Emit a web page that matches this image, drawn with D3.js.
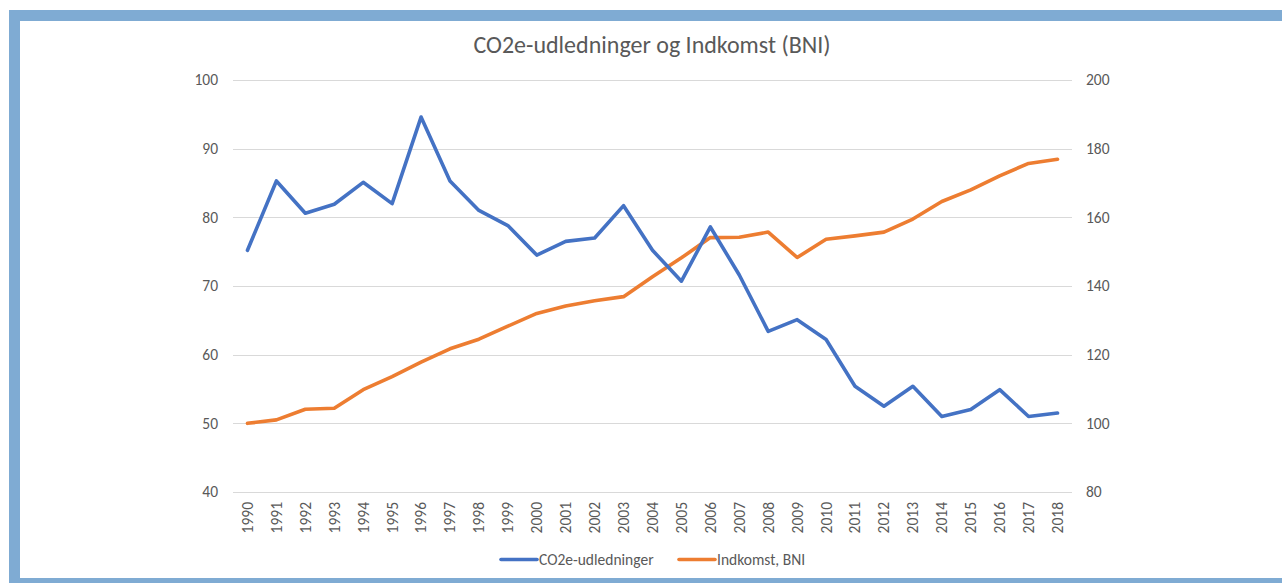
<!DOCTYPE html>
<html><head><meta charset="utf-8">
<script src="https://cdn.jsdelivr.net/npm/d3@7"></script>
<style>body{margin:0;background:#fff;}svg{display:block;}</style>
</head><body>
<svg id="c" width="1282" height="583"></svg>
<script>
const years = ["1990","1991","1992","1993","1994","1995","1996","1997","1998","1999","2000","2001","2002","2003","2004","2005","2006","2007","2008","2009","2010","2011","2012","2013","2014","2015","2016","2017","2018"];
const co2 = [75.2,85.3,80.6,81.9,85.1,82.0,94.6,85.3,81.0,78.8,74.5,76.5,77.0,81.7,75.2,70.7,78.6,71.6,63.4,65.1,62.2,55.4,52.5,55.4,51.0,52.0,54.9,51.0,51.5];
const bni = [100.0,101.0,104.1,104.4,109.8,113.6,117.8,121.7,124.5,128.3,132.0,134.2,135.7,136.9,142.7,148.2,154.1,154.2,155.7,148.3,153.6,154.6,155.7,159.5,164.6,168.0,172.1,175.7,176.9];
const leftTicks = [40,50,60,70,80,90,100];
const rightTicks = [80,100,120,140,160,180,200];
const seriesNames = ["CO2e-udledninger","Indkomst, BNI"];
const title = "CO2e-udledninger og Indkomst (BNI)";

const svg = d3.select("#c");
const font = "Carlito, Calibri, 'Liberation Sans', Arial, sans-serif";
const grey = "#595959";
const blue = "#4472C4", orange = "#ED7D31";
const fs = "15.5px";

// frame
svg.append("rect").attr("x",14.5).attr("y",15.5).attr("width",1290).attr("height",568)
  .attr("fill","none").attr("stroke","#7FABD3").attr("stroke-width",11);

const L = 233, R = 1072, T = 80, B = 492;
const x = d3.scaleBand().domain(years).range([L,R]);
const yL = d3.scaleLinear().domain([40,100]).range([B,T]);
const yR = d3.scaleLinear().domain([80,200]).range([B,T]);

// gridlines
svg.append("g").selectAll("line").data(leftTicks).join("line")
  .attr("x1",L).attr("x2",R).attr("y1",d=>Math.round(yL(d))+0.5).attr("y2",d=>Math.round(yL(d))+0.5)
  .attr("stroke","#d9d9d9").attr("stroke-width",1);

// left axis
const ga = svg.append("g").attr("transform",`translate(${L-15},0)`)
  .call(d3.axisLeft(yL).tickValues(leftTicks).tickSize(0).tickPadding(0));
ga.select(".domain").remove();
ga.selectAll("text").attr("fill",grey).style("font-family",font).style("font-size",fs);

const gr = svg.append("g").attr("transform",`translate(${R+14},0)`)
  .call(d3.axisRight(yR).tickValues(rightTicks).tickSize(0).tickPadding(0));
gr.select(".domain").remove();
gr.selectAll("text").attr("fill",grey).style("font-family",font).style("font-size",fs);

// x labels
const gx = svg.append("g").attr("transform",`translate(0,${B})`)
  .call(d3.axisBottom(x).tickSize(0).tickPadding(0));
gx.select(".domain").remove();
gx.selectAll("text").attr("fill",grey).style("font-family",font).style("font-size",fs)
  .attr("text-anchor","end").attr("dy","0.35em").attr("transform","translate(0,10) rotate(-90)").attr("x",0).attr("y",0);

const cx = d => x(d) + x.bandwidth()/2;
const line1 = d3.line().x((d,i)=>cx(years[i])).y(d=>yL(d));
const line2 = d3.line().x((d,i)=>cx(years[i])).y(d=>yR(d));
svg.append("path").attr("d",line2(bni)).attr("fill","none").attr("stroke",orange).attr("stroke-width",3.6).attr("stroke-linejoin","round").attr("stroke-linecap","round");
svg.append("path").attr("d",line1(co2)).attr("fill","none").attr("stroke",blue).attr("stroke-width",3.6).attr("stroke-linejoin","round").attr("stroke-linecap","round");

// title
svg.append("text").attr("x",652).attr("y",53).attr("text-anchor","middle")
  .attr("fill",grey).style("font-family",font).style("font-size","24px").text(title);

// legend
const lg = [{x:501,c:blue,t:seriesNames[0]},{x:679,c:orange,t:seriesNames[1]}];
const g = svg.append("g");
lg.forEach(d=>{
  g.append("line").attr("x1",d.x).attr("x2",d.x+36).attr("y1",559.5).attr("y2",559.5).attr("stroke",d.c).attr("stroke-width",3.6).attr("stroke-linecap","round");
  g.append("text").attr("x",d.x+38).attr("y",565).attr("fill",grey).style("font-family",font).style("font-size",fs).text(d.t);
});
</script>
</body></html>
